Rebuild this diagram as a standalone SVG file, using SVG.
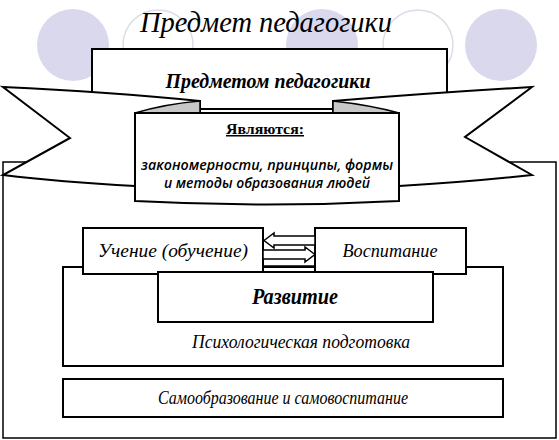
<svg xmlns="http://www.w3.org/2000/svg" width="559" height="440" viewBox="0 0 559 440">
<style>
.dot{fill:#d9d8ec}
.ring{fill:none;stroke:#dcdce8;stroke-width:1.5}
.box{fill:#fff;stroke:#000;stroke-width:2}
.rib{fill:#fff;stroke:#000;stroke-width:2;stroke-linejoin:miter}
.fold{fill:#c8c8c8;stroke:#000;stroke-width:1.5}
.it{font-family:"Liberation Serif","Times New Roman",serif;font-style:italic;fill:#000}
.sans{font-family:"Open Sans","Liberation Sans",sans-serif;font-style:italic;font-weight:600;fill:#000}
</style>
<rect width="559" height="440" fill="#fff"/>
<g id="bg">
<circle class="dot" cx="73" cy="45" r="36"/>
<circle class="ring" cx="158" cy="45" r="35"/>
<circle class="dot" cx="322" cy="45" r="36"/>
<circle class="ring" cx="418" cy="45" r="35"/>
<circle class="dot" cx="501" cy="45" r="36"/>
</g>
<text id="title" class="it" x="266" y="32" font-size="30" text-anchor="middle" textLength="252" lengthAdjust="spacingAndGlyphs">Предмет педагогики</text>
<g id="frame"><rect x="3" y="162" width="553" height="276" fill="#fff" stroke="#000" stroke-width="1.5"/></g>
<g id="topbox">
<rect class="box" x="92" y="49" width="355" height="60"/>
<text class="it" x="268" y="88" font-size="20" font-weight="bold" text-anchor="middle" textLength="205" lengthAdjust="spacingAndGlyphs">Предметом педагогики</text>
</g>
<g id="ribbon">
<path class="rib" d="M3,87 Q110,92 200,101 L200,114 L135,113 L135,186 Q60,182 3,175 L70,138 Z"/>
<path class="rib" d="M532,87 Q430,93 333,101 L333,114 L399,113 L399,186 Q470,182 532,175 L465,137 Z"/>
<path class="fold" d="M135,113 Q165,104 200,101 L200,114 Z"/>
<path class="fold" d="M333,101 Q370,105 399,113 L333,114 Z"/>
<path class="rib" d="M135,113 L399,113 L399,201 Q267,208 135,201 Z" stroke-width="2.5"/>
<text x="265" y="134" font-family="Liberation Serif,serif" font-weight="bold" font-size="15" text-anchor="middle" text-decoration="underline" textLength="78" lengthAdjust="spacingAndGlyphs">Являются:</text>
<text class="sans" x="267" y="170" font-size="13.5" text-anchor="middle" textLength="252" lengthAdjust="spacingAndGlyphs">закономерности, принципы, формы</text>
<text class="sans" x="267" y="188" font-size="13.5" text-anchor="middle" textLength="206" lengthAdjust="spacingAndGlyphs">и методы образования людей</text>
</g>
<g id="psych">
<rect class="box" x="63" y="267" width="440" height="99"/>
<text class="it" x="301" y="348" font-size="19" text-anchor="middle" textLength="218" lengthAdjust="spacingAndGlyphs">Психологическая подготовка</text>
</g>
<g id="uchenie">
<rect class="box" x="83" y="228" width="180" height="46"/>
<text class="it" x="173" y="257" font-size="19" text-anchor="middle" textLength="150" lengthAdjust="spacingAndGlyphs">Учение (обучение)</text>
</g>
<g id="vospitanie">
<rect class="box" x="315" y="228" width="151" height="46"/>
<text class="it" x="390" y="257" font-size="19" text-anchor="middle" textLength="95" lengthAdjust="spacingAndGlyphs">Воспитание</text>
</g>
<g id="razvitie">
<rect class="box" x="158" y="272" width="275" height="50"/>
<text class="it" x="295" y="304" font-size="23" font-weight="bold" text-anchor="middle" textLength="86" lengthAdjust="spacingAndGlyphs">Развитие</text>
</g>
<g id="samo">
<rect class="box" x="63" y="379" width="440" height="38"/>
<text class="it" x="283" y="404" font-size="19" text-anchor="middle" textLength="250" lengthAdjust="spacingAndGlyphs">Самообразование и самовоспитание</text>
</g>
<g id="connectors" fill="#fff" stroke="#000" stroke-width="1.5">
<path d="M264,240.5 L274,233 L274,236 L315,236 L315,245 L274,245 L274,248 Z"/>
<path d="M315,254.5 L305,247 L305,250 L263,250 L263,259 L305,259 L305,262 Z"/>
<line x1="263" y1="266" x2="315" y2="266"/>
</g>
</svg>
